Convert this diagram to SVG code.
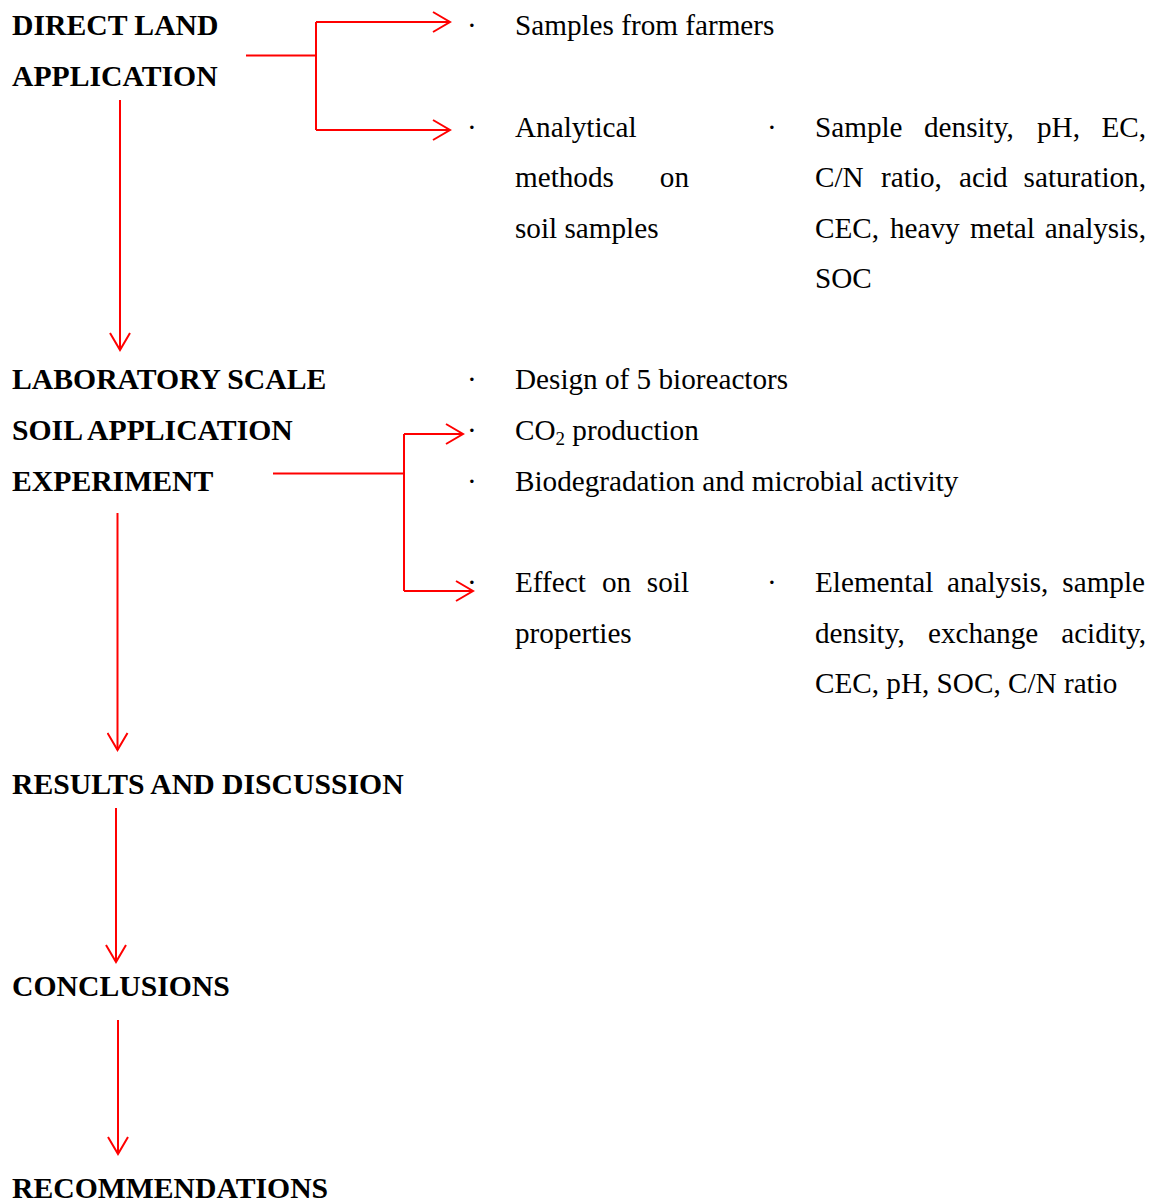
<svg xmlns="http://www.w3.org/2000/svg" width="1158" height="1203" viewBox="0 0 1158 1203">
<style>
.h{font-family:"Liberation Serif","Times New Roman",serif;font-weight:bold;font-size:29.7px;fill:#000}
.t{font-family:"Liberation Serif","Times New Roman",serif;font-size:29.2px;fill:#000}
.c{fill:none;stroke:#ff0000;stroke-width:2}
</style>
<defs>
<marker id="ah" viewBox="0 0 20 22" refX="18" refY="11" markerWidth="20" markerHeight="22" markerUnits="userSpaceOnUse" orient="auto">
<path d="M1,1 L18,11 L1,21" fill="none" stroke="#ff0000" stroke-width="2"/>
</marker>
</defs>
<rect width="1158" height="1203" fill="#ffffff"/>
<g id="connectors">
<path class="c" d="M246,55.5 H316"/>
<path class="c" d="M316,22 V130"/>
<path class="c" d="M316,22 H450" marker-end="url(#ah)"/>
<path class="c" d="M316,130 H450" marker-end="url(#ah)"/>
<path class="c" d="M120,100 V350" marker-end="url(#ah)"/>
<path class="c" d="M273,473.5 H404"/>
<path class="c" d="M404,434 V591"/>
<path class="c" d="M404,434 H463" marker-end="url(#ah)"/>
<path class="c" d="M404,591 H473" marker-end="url(#ah)"/>
<path class="c" d="M117.5,513 V750" marker-end="url(#ah)"/>
<path class="c" d="M116,808 V962" marker-end="url(#ah)"/>
<path class="c" d="M118,1020 V1154" marker-end="url(#ah)"/>
</g>
<g id="direct-land">
<text class="h" x="12" y="35">DIRECT LAND</text>
<text class="h" x="12" y="86">APPLICATION</text>
</g>
<g id="samples-farmers">
<text class="t" x="467" y="35">·</text>
<text class="t" x="515" y="35">Samples from farmers</text>
</g>
<g id="analytical-methods">
<text class="t" x="467" y="137">·</text>
<text class="t" x="515" y="137">Analytical</text>
<text class="t" x="515" y="187">methods</text>
<text class="t" x="689" y="187" text-anchor="end">on</text>
<text class="t" x="515" y="238">soil samples</text>
</g>
<g id="analytical-details">
<text class="t" x="767" y="137">·</text>
<text class="t" x="815" y="137">Sample</text>
<text class="t" x="924" y="137">density,</text>
<text class="t" x="1037" y="137">pH,</text>
<text class="t" x="1146" y="137" text-anchor="end">EC,</text>
<text class="t" x="815" y="187">C/N</text>
<text class="t" x="881" y="187">ratio,</text>
<text class="t" x="959" y="187">acid</text>
<text class="t" x="1146" y="187" text-anchor="end">saturation,</text>
<text class="t" x="815" y="238">CEC,</text>
<text class="t" x="890" y="238">heavy</text>
<text class="t" x="970" y="238">metal</text>
<text class="t" x="1146" y="238" text-anchor="end">analysis,</text>
<text class="t" x="815" y="288">SOC</text>
</g>
<g id="laboratory-scale">
<text class="h" x="12" y="389">LABORATORY SCALE</text>
<text class="h" x="12" y="440">SOIL APPLICATION</text>
<text class="h" x="12" y="491">EXPERIMENT</text>
</g>
<g id="lab-items">
<text class="t" x="467" y="389">·</text>
<text class="t" x="515" y="389">Design of 5 bioreactors</text>
<text class="t" x="467" y="440">·</text>
<text class="t" x="515" y="440">CO<tspan font-size="19" dy="5">2</tspan><tspan dy="-5"> production</tspan></text>
<text class="t" x="467" y="491">·</text>
<text class="t" x="515" y="491">Biodegradation and microbial activity</text>
</g>
<g id="effect-soil">
<text class="t" x="467" y="592">·</text>
<text class="t" x="515" y="592">Effect</text>
<text class="t" x="602" y="592">on</text>
<text class="t" x="689" y="592" text-anchor="end">soil</text>
<text class="t" x="515" y="643">properties</text>
</g>
<g id="effect-details">
<text class="t" x="767" y="592">·</text>
<text class="t" x="815" y="592">Elemental</text>
<text class="t" x="947" y="592">analysis,</text>
<text class="t" x="1145" y="592" text-anchor="end">sample</text>
<text class="t" x="815" y="643">density,</text>
<text class="t" x="928" y="643">exchange</text>
<text class="t" x="1146" y="643" text-anchor="end">acidity,</text>
<text class="t" x="815" y="693">CEC, pH, SOC, C/N ratio</text>
</g>
<g id="results">
<text class="h" x="12" y="794">RESULTS AND DISCUSSION</text>
</g>
<g id="conclusions">
<text class="h" x="12" y="996">CONCLUSIONS</text>
</g>
<g id="recommendations">
<text class="h" x="12" y="1198">RECOMMENDATIONS</text>
</g>
</svg>
